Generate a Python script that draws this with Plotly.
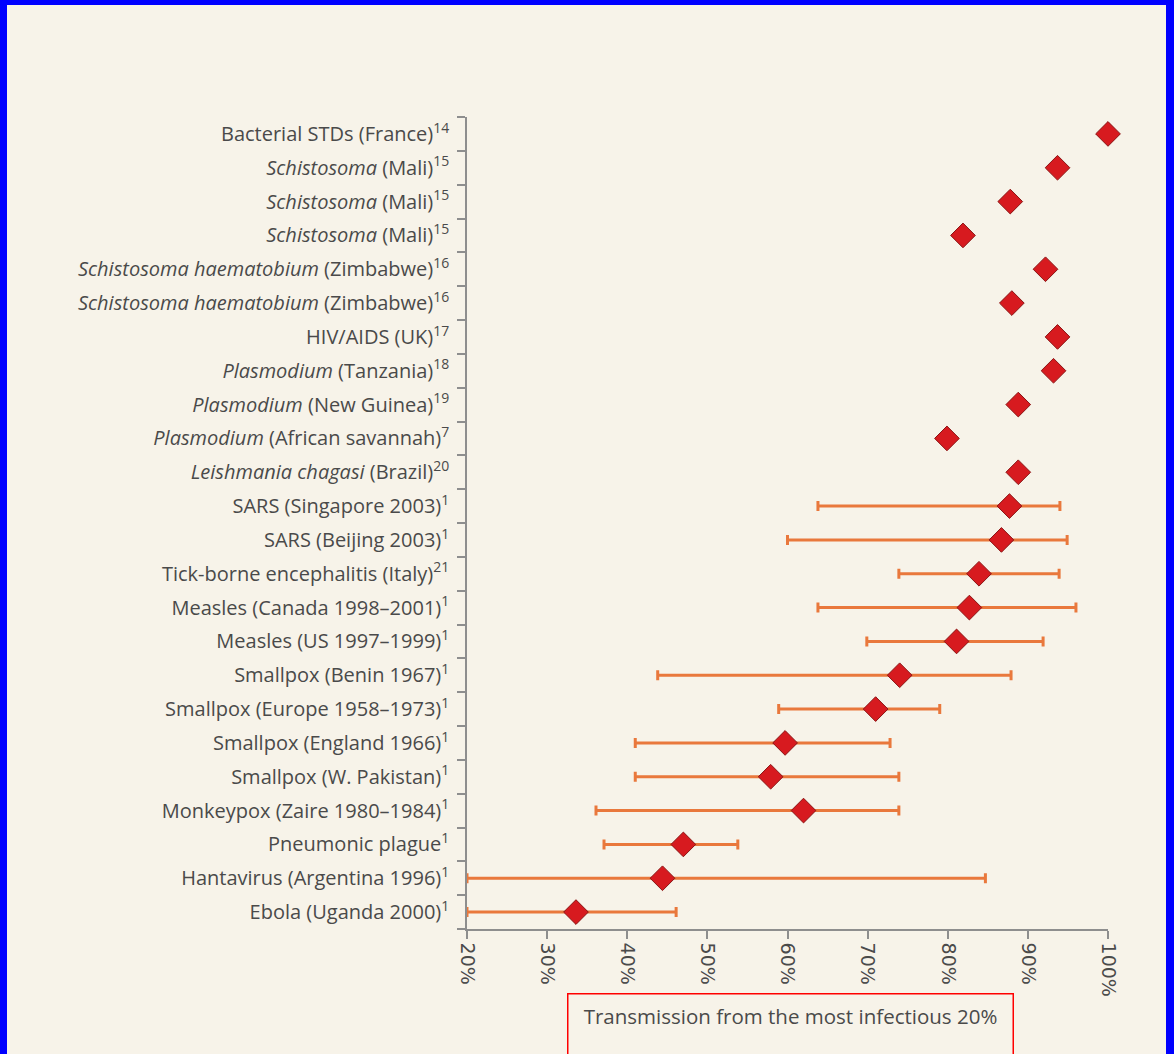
import plotly.graph_objects as go

# ---------------- data (top row first) ----------------
labels = [
    "Bacterial STDs (France)<sup>14</sup>",
    "<i>Schistosoma</i> (Mali)<sup>15</sup>",
    "<i>Schistosoma</i> (Mali)<sup>15</sup>",
    "<i>Schistosoma</i> (Mali)<sup>15</sup>",
    "<i>Schistosoma haematobium</i> (Zimbabwe)<sup>16</sup>",
    "<i>Schistosoma haematobium</i> (Zimbabwe)<sup>16</sup>",
    "HIV/AIDS (UK)<sup>17</sup>",
    "<i>Plasmodium</i> (Tanzania)<sup>18</sup>",
    "<i>Plasmodium</i> (New Guinea)<sup>19</sup>",
    "<i>Plasmodium</i> (African savannah)<sup>7</sup>",
    "<i>Leishmania chagasi</i> (Brazil)<sup>20</sup>",
    "SARS (Singapore 2003)<sup>1</sup>",
    "SARS (Beijing 2003)<sup>1</sup>",
    "Tick-borne encephalitis (Italy)<sup>21</sup>",
    "Measles (Canada 1998–2001)<sup>1</sup>",
    "Measles (US 1997–1999)<sup>1</sup>",
    "Smallpox (Benin 1967)<sup>1</sup>",
    "Smallpox (Europe 1958–1973)<sup>1</sup>",
    "Smallpox (England 1966)<sup>1</sup>",
    "Smallpox (W. Pakistan)<sup>1</sup>",
    "Monkeypox (Zaire 1980–1984)<sup>1</sup>",
    "Pneumonic plague<sup>1</sup>",
    "Hantavirus (Argentina 1996)<sup>1</sup>",
    "Ebola (Uganda 2000)<sup>1</sup>",
]
values = [100.0, 93.7, 87.8, 81.9, 92.2, 88.0, 93.7, 93.2, 88.8, 79.9, 88.8,
          87.7, 86.7, 83.9, 82.7, 81.1, 74.0, 71.0, 59.7, 57.9, 62.0, 47.0, 44.4, 33.6]
ci_low = [None] * 11 + [63.8, 60.0, 73.9, 63.8, 69.9, 43.8, 58.9, 41.0, 41.0, 36.1, 37.1, 20.0, 20.0]
ci_high = [None] * 11 + [94.0, 94.9, 93.9, 96.0, 91.9, 87.9, 79.0, 72.8, 73.9, 73.9, 53.8, 84.7, 46.1]

x_tickvals = [20, 30, 40, 50, 60, 70, 80, 90, 100]
x_ticktext = ["20%", "30%", "40%", "50%", "60%", "70%", "80%", "90%", "100%"]
axis_title = "Transmission from the most infectious 20%"

# ---------------- styling ----------------
BG = "#F7F3E9"
AXIS = "#8E8E8E"
TEXT = "#4A4A4A"
RED = "#D71A1F"
RED_EDGE = "#8A1414"
ORANGE = "#E9783C"
W, H = 1174, 1054
ML, MR, MT, MB = 467, 66, 117, 125

ypos = list(range(len(labels)))
n = len(labels)

idx_ci = [i for i in ypos if ci_low[i] is not None]
idx_no = [i for i in ypos if ci_low[i] is None]

fig = go.Figure()
fig.add_trace(go.Scatter(
    x=[values[i] for i in idx_ci],
    y=idx_ci,
    mode="markers",
    marker=dict(symbol="diamond", size=19, color=RED, line=dict(color=RED_EDGE, width=1)),
    error_x=dict(type="data", symmetric=False,
                 array=[ci_high[i] - values[i] for i in idx_ci],
                 arrayminus=[values[i] - ci_low[i] for i in idx_ci],
                 color=ORANGE, thickness=3, width=5),
    cliponaxis=False, showlegend=False, hoverinfo="x",
))
fig.add_trace(go.Scatter(
    x=[values[i] for i in idx_no],
    y=idx_no,
    mode="markers",
    marker=dict(symbol="diamond", size=19, color=RED, line=dict(color=RED_EDGE, width=1)),
    cliponaxis=False, showlegend=False, hoverinfo="x",
))

def px_to_paper_x(px):
    return (px - ML) / (W - ML - MR)

def px_to_paper_y(py):
    return (H - MB - py) / (H - MT - MB)

shapes = [
    # blue frame (left, top, right)
    dict(type="rect", xref="paper", yref="paper", x0=px_to_paper_x(-5), x1=px_to_paper_x(7),
         y0=px_to_paper_y(H + 5), y1=px_to_paper_y(-5), fillcolor="#0000FF", line=dict(width=0), layer="above"),
    dict(type="rect", xref="paper", yref="paper", x0=px_to_paper_x(-5), x1=px_to_paper_x(W + 5),
         y0=px_to_paper_y(5), y1=px_to_paper_y(-5), fillcolor="#0000FF", line=dict(width=0), layer="above"),
    dict(type="rect", xref="paper", yref="paper", x0=px_to_paper_x(1166), x1=px_to_paper_x(W + 5),
         y0=px_to_paper_y(H + 5), y1=px_to_paper_y(-5), fillcolor="#0000FF", line=dict(width=0), layer="above"),
]

fig.update_layout(
    width=W, height=H,
    margin=dict(l=ML, r=MR, t=MT, b=MB, pad=0),
    paper_bgcolor=BG, plot_bgcolor=BG,
    font=dict(family="Open Sans", size=20, color=TEXT),
    shapes=shapes,
    annotations=[dict(
        text=axis_title, xref="paper", yref="paper",
        x=px_to_paper_x(790), y=px_to_paper_y(993), xanchor="center", yanchor="top",
        showarrow=False, width=430, height=80, valign="top", align="center",
        bordercolor="#FF0000", borderwidth=1.5, borderpad=7,
        font=dict(family="Open Sans", size=20.5, color=TEXT),
    )],
)
fig.update_xaxes(
    range=[20, 100], tickmode="array", tickvals=x_tickvals, ticktext=x_ticktext,
    tickangle=90, ticks="outside", ticklen=8, tickwidth=1.5, tickcolor=AXIS,
    showline=True, linecolor=AXIS, linewidth=1.5, showgrid=False, zeroline=False,
    tickfont=dict(family="DejaVu Sans", size=19, color=TEXT),
)
fig.update_yaxes(
    range=[n - 0.5, -0.5], tickmode="array", tickvals=ypos, ticktext=labels,
    ticks="outside", ticklen=12, tickcolor="rgba(0,0,0,0)",
    minor=dict(tick0=0.5, dtick=1, ticks="outside", ticklen=8, tickwidth=1.5, tickcolor=AXIS),
    showline=True, linecolor=AXIS, linewidth=1.5, showgrid=False, zeroline=False,
    tickfont=dict(family="Open Sans", size=20, color=TEXT),
)

fig.write_html("out.html", config={"displayModeBar": False},
               post_script="document.body.style.margin='0';")
